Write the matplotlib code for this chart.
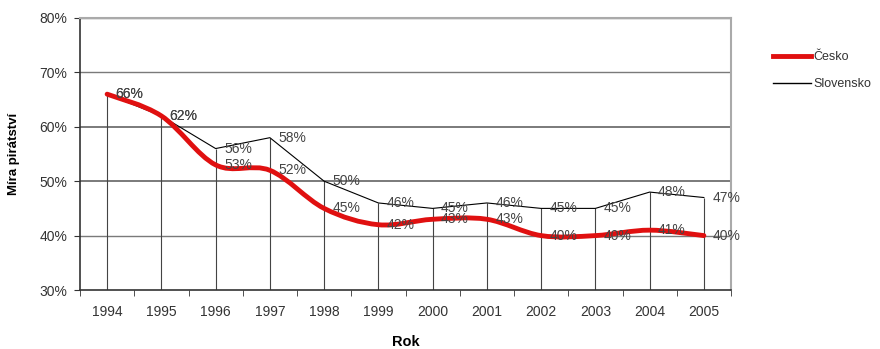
import numpy as np
import matplotlib
matplotlib.use("Agg")
import matplotlib.pyplot as plt
from matplotlib.path import Path
from matplotlib.patches import PathPatch
from matplotlib.lines import Line2D

years = ["1994", "1995", "1996", "1997", "1998", "1999", "2000",
         "2001", "2002", "2003", "2004", "2005"]
cesko = [66, 62, 53, 52, 45, 42, 43, 43, 40, 40, 41, 40]
slovensko = [66, 62, 56, 58, 50, 46, 45, 46, 45, 45, 48, 47]

plt.rcParams['font.family'] = ['Liberation Sans', 'DejaVu Sans']

fig = plt.figure(figsize=(8.8, 3.49), dpi=100)
ax = fig.add_axes([80 / 880, 59 / 349, 651 / 880, 272 / 349])

x = np.arange(len(years))

# grid
for v in [40, 50, 60, 70, 80]:
    ax.axhline(v, color="#7a7a7a", lw=1.4 if v in (50, 60) else 1.0, zorder=1)

# slovensko line with drop lines
ax.plot(x, slovensko, color="black", lw=0.8, zorder=3)
ax.vlines(x, 30, slovensko, color="#444444", lw=0.8, zorder=2)

# smoothed cesko line (bezier through the data points)
pts = np.column_stack([x, cesko]).astype(float)
verts = [tuple(pts[0])]
codes = [Path.MOVETO]
t = 1 / 6
for i in range(len(pts) - 1):
    p0 = pts[i - 1] if i > 0 else pts[i]
    p1 = pts[i]
    p2 = pts[i + 1]
    p3 = pts[i + 2] if i + 2 < len(pts) else pts[i + 1]
    c1 = p1 + (p2 - p0) * t
    c2 = p2 - (p3 - p1) * t
    verts += [tuple(c1), tuple(c2), tuple(p2)]
    codes += [Path.CURVE4] * 3
ax.add_patch(PathPatch(Path(verts, codes), fill=False, edgecolor="#e01010",
                       lw=3.5, capstyle="round", joinstyle="round", zorder=4))

# data labels
for xi, v in zip(x, slovensko):
    ax.annotate(f"{v}%", (xi, v), xytext=(6, 0), textcoords="offset points",
                ha="left", va="center", fontsize=10, color="#444444", zorder=5)
for xi, v in zip(x, cesko):
    ax.annotate(f"{v}%", (xi, v), xytext=(6, 0), textcoords="offset points",
                ha="left", va="center", fontsize=10, color="#444444", zorder=5)

ax.set_xlim(-0.5, len(years) - 0.5)
ax.set_ylim(30, 80)
ax.set_yticks([30, 40, 50, 60, 70, 80])
ax.set_yticklabels([f"{v}%" for v in [30, 40, 50, 60, 70, 80]])
ax.set_xticks(x)
ax.set_xticklabels(years)
ax.set_xticks(np.arange(-0.5, len(years)), minor=True)
ax.tick_params(axis="x", which="major", length=0, pad=11, labelsize=10, labelcolor="#333333")
ax.tick_params(axis="x", which="minor", length=4, direction="out", color="#333333")
ax.tick_params(axis="y", length=4, direction="out", pad=5, labelsize=10,
               labelcolor="#333333", color="#333333")

for s in ["left", "bottom"]:
    ax.spines[s].set_color("#333333")
    ax.spines[s].set_linewidth(1.2)
for s in ["top", "right"]:
    ax.spines[s].set_color("#aaaaaa")
    ax.spines[s].set_linewidth(1.5)

ax.set_ylabel("Míra pirátství", fontsize=9.5, fontweight="bold", labelpad=14)
ax.set_xlabel("Rok", fontsize=10.5, fontweight="bold", labelpad=11)

handles = [Line2D([], [], color="#e01010", lw=3.5),
           Line2D([], [], color="black", lw=1)]
fig.legend(handles, ["Česko", "Slovensko"], loc="upper left",
           bbox_to_anchor=(768 / 880, 1 - 46 / 349), frameon=False,
           fontsize=9, handlelength=3.0, handletextpad=0.2, labelspacing=1.2,
           labelcolor="#333333", borderaxespad=0)

fig.savefig("out.png", dpi=100)
